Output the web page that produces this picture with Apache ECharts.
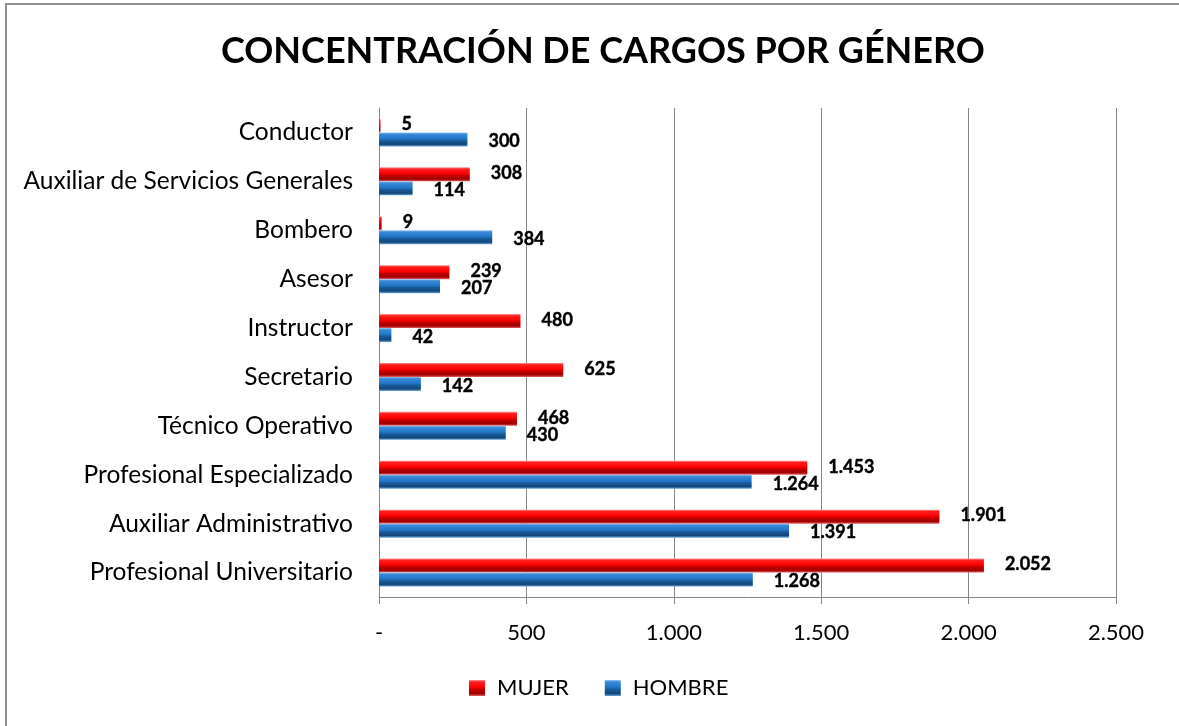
<!DOCTYPE html>
<html>
<head>
<meta charset="utf-8">
<script src="https://cdn.jsdelivr.net/npm/echarts@6/dist/echarts.min.js"></script>
<style>
html,body{margin:0;padding:0;background:#fff;overflow:hidden;}
#chart{width:1179px;height:726px;}
</style>
</head>
<body>
<div id="chart"></div>
<script>
const titleText = 'CONCENTRACIÓN DE CARGOS POR GÉNERO';
const categories = ['Profesional Universitario','Auxiliar Administrativo','Profesional Especializado','Técnico Operativo','Secretario','Instructor','Asesor','Bombero','Auxiliar de Servicios Generales','Conductor'];
const mujer = [2052, 1901, 1453, 468, 625, 480, 239, 9, 308, 5];
const hombre = [1268, 1391, 1264, 430, 142, 42, 207, 384, 114, 300];
const seriesNames = ['MUJER', 'HOMBRE'];
const xTicks = [0, 500, 1000, 1500, 2000, 2500];

function fmt(v){
  if (v === 0) return '-';
  return String(v).replace(/\B(?=(\d{3})+(?!\d))/g, '.');
}
function grad(stops){
  return new echarts.graphic.LinearGradient(0,0,0,1, stops.map(c=>({offset:c[0],color:c[1]})));
}
const redGrad = grad([[0,'#ff9a9a'],[0.12,'#ff2020'],[0.45,'#ff0000'],[0.6,'#c00000'],[0.85,'#a00000'],[1,'#e86060']]);
const blueGrad = grad([[0,'#9cc8f0'],[0.12,'#3a8ad8'],[0.45,'#2176c6'],[0.6,'#185a9a'],[0.85,'#134677'],[1,'#6aa6dc']]);

const chart = echarts.init(document.getElementById('chart'), null, {renderer:'canvas'});
const labelBase = {show:true, position:'right', distance:21, fontFamily:'Lato', fontWeight:'bold', fontSize:18, color:'#000',
  textBorderColor:'#000', textBorderWidth:0.4, formatter: p => fmt(p.value)};
chart.setOption({
  backgroundColor:'#fff',
  animation:false,
  graphic:[{type:'polyline', silent:true, shape:{points:[[6,800],[6,4],[1300,4]]}, style:{stroke:'#8f8f8f', lineWidth:2, fill:null}}],
  title:{text:titleText, left:216, top:28, textStyle:{fontFamily:'Lato', fontWeight:'bold', fontSize:36, color:'#000'}},
  legend:{data:seriesNames, bottom:22, left:464, itemWidth:16, itemHeight:16, itemGap:36, icon:'rect',
    textStyle:{fontFamily:'Lato', fontSize:22, color:'#000', padding:[0,0,0,7]}},
  grid:{left:379, right:63, top:108, bottom:129, containLabel:false},
  xAxis:{type:'value', min:xTicks[0], max:xTicks[xTicks.length-1], interval:500,
    axisLine:{show:true, lineStyle:{color:'#868686'}},
    axisTick:{show:true, length:7, lineStyle:{color:'#868686'}},
    splitLine:{show:true, lineStyle:{color:'#868686', width:1}},
    axisLabel:{margin:25, fontFamily:'Lato', fontSize:22, color:'#000', formatter: v => fmt(v)}},
  yAxis:{type:'category', data:categories,
    axisLine:{show:true, lineStyle:{color:'#868686'}},
    axisTick:{show:false},
    axisLabel:{margin:26, fontFamily:'Lato', fontSize:24.5, color:'#000'}},
  series:[
    {name:'MUJER', type:'bar', data:mujer, barWidth:14, barGap:'0%', barCategoryGap:'43%',
      itemStyle:{color:redGrad}, label:Object.assign({}, labelBase, {offset:[0,-1]})},
    {name:'HOMBRE', type:'bar', data:hombre, barWidth:14, barGap:'0%',
      itemStyle:{color:blueGrad}, label:Object.assign({}, labelBase, {offset:[0,2]})}
  ]
});
</script>
</body>
</html>
